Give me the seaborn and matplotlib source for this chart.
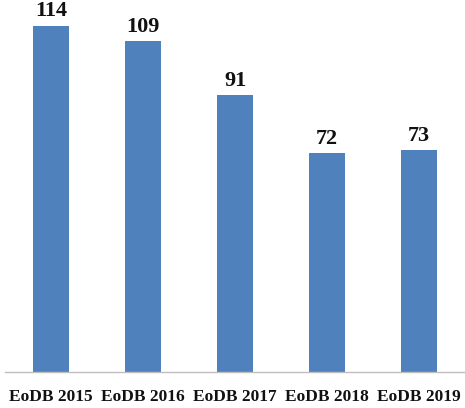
import seaborn as sns
import pandas as pd
import matplotlib.pyplot as plt

editions = ["EoDB 2015", "EoDB 2016", "EoDB 2017", "EoDB 2018", "EoDB 2019"]
ranks = [114, 109, 91, 72, 73]

df = pd.DataFrame({"edition": editions, "rank": ranks})

sns.set_style("white")
plt.rcParams["font.family"] = ["Liberation Serif", "DejaVu Serif"]

fig = plt.figure(figsize=(4.65, 4.08), dpi=100)
ax = fig.add_axes([5 / 465, 36 / 408, 460 / 465, 372 / 408])

sns.barplot(data=df, x="edition", y="rank", color="#4F81BD", saturation=1,
            width=0.4, linewidth=0, ax=ax)

for i, v in enumerate(ranks):
    ax.annotate(str(v), (i, v), xytext=(0, 3), textcoords="offset points",
                ha="center", va="bottom", fontsize=16, fontweight="bold",
                color="#111111")

ax.set_xlim(-0.5, 4.5)
ax.set_ylim(0, 122.4)
ax.set_xlabel("")
ax.set_ylabel("")
ax.set_yticks([])
for s in ["top", "left", "right"]:
    ax.spines[s].set_visible(False)
ax.spines["bottom"].set_color("#BFBFBF")
ax.spines["bottom"].set_linewidth(1)
ax.tick_params(axis="x", length=0, pad=12)
for lab in ax.get_xticklabels():
    lab.set_fontsize(12.5)
    lab.set_fontweight("bold")
    lab.set_color("#111111")

fig.savefig("out.png", dpi=100)
